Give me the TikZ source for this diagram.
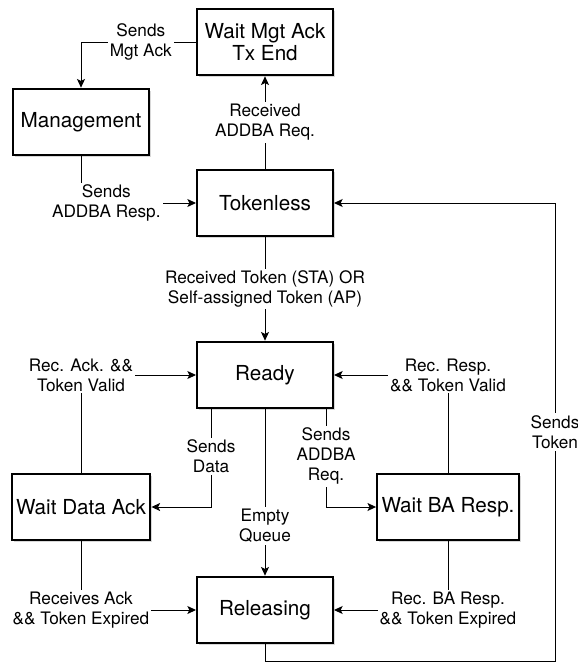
\documentclass[tikz,border=0pt]{standalone}
\usepackage{fontspec}
\setmainfont{TeX Gyre Heros}
\usetikzlibrary{arrows.meta,shadows}

\tikzset{
  state/.style = {draw, fill=white, line width=1.5pt, minimum width=102pt, minimum height=50pt,
    align=center, font=\fontsize{15.5}{16.5}\selectfont,
    drop shadow={shadow xshift=1.5pt, shadow yshift=-1.5pt, fill=black!30}},
  lbl/.style = {fill=white, align=center, inner sep=1.5pt, font=\fontsize{12.9}{15}\selectfont}
}

\begin{document}
\begin{tikzpicture}[x=0.75pt, y=-0.75pt, >={Stealth[length=6.5pt, width=6pt, inset=1.5pt]}, line width=0.75pt]
\useasboundingbox (0,0) rectangle (578,664);
% states
\node[state] (wma)   at (265,42)  {Wait Mgt Ack\\Tx End};
\node[state] (mgmt)  at (81,122)  {Management};
\node[state] (tok)   at (265,203) {Tokenless};
\node[state] (ready) at (265,375) {Ready};
\node[state] (wda)   at (81,507)  {Wait Data Ack};
\node[state] (wba)   at (448,507) {Wait BA Resp.};
\node[state] (rel)   at (265,610) {Releasing};
\coordinate (back) at (555,661);
% transitions
\draw[->] (wma.west) -| node[lbl, pos=0.24] {Sends\\Mgt Ack} (mgmt.north);
\draw[->] (mgmt.south) |- node[lbl, pos=0.61] {Sends\\ADDBA Resp.} (tok.west);
\draw[->] (tok.north) -- node[lbl] {Received\\ADDBA Req.} (wma.south);
\draw[->] (tok.south) -- node[lbl] {Received Token (STA) OR\\Self-assigned Token (AP)} (ready.north);
\draw[->] (wda.north) |- node[lbl] {Rec. Ack. \&\&\\Token Valid} (ready.west);
\draw[->] (wba.north) |- node[lbl] {Rec. Resp.\\\&\& Token Valid} (ready.east);
\draw[->] ([xshift=11.25pt]ready.south west) |- node[lbl, pos=0.24] {Sends\\Data} (wda.east);
\draw[->] (ready.south) -- node[lbl, pos=0.7] {Empty\\Queue} (rel.north);
\draw[->] ([xshift=-6pt]ready.south east) |- node[lbl, pos=0.24] {Sends\\ADDBA\\Req.} (wba.west);
\draw[->] (wda.south) |- node[lbl] {Receives Ack\\\&\& Token Expired} (rel.west);
\draw[->] (wba.south) |- node[lbl] {Rec. BA Resp.\\\&\& Token Expired} (rel.east);
\draw[->] (rel.south) |- (back) |- node[lbl, pos=0.25] {Sends\\Token} (tok.east);
\end{tikzpicture}
\end{document}
